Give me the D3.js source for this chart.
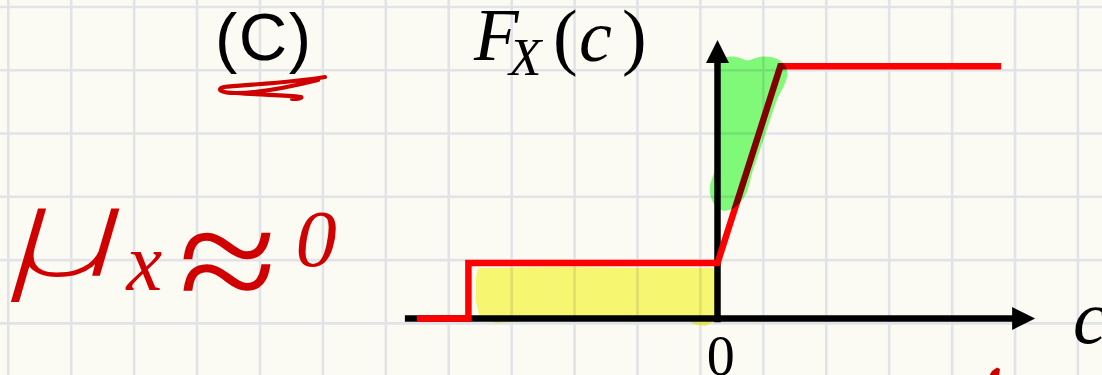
<!DOCTYPE html>
<html>
<head>
<meta charset="utf-8">
<script src="https://cdn.jsdelivr.net/npm/d3@7"></script>
<style>
  html, body { margin: 0; padding: 0; background: #fbfbf4; }
  svg { display: block; }
</style>
</head>
<body>
<svg id="chart" width="1102" height="375"></svg>
<script>
// Piecewise CDF of X: breakpoints c and values F_X(c)
const cPoints   = [-4.78, -3.96, -3.96, 0, 1, 4.51];
const cdfPoints = [0, 0, 0.22, 0.22, 1, 1];

// Axis ticks
const xTicks = [0];
const xTickLabels = ["0"];

// Extent of the arrowed axes (data units)
const xAxisExtent = [-4.97, 5.05];
const yAxisExtent = [-0.015, 1.104];

// Highlighter strokes (data units): yellow under the flat part, green beside the ramp
const yellowC = [-3.76, -2.50, -1.23, -0.10, -0.10, -0.20, -0.33, -0.44, -3.14, -3.51, -3.73, -3.78, -3.78];
const yellowF = [0.184, 0.188, 0.184, 0.184, 0.002, -0.014, -0.010, 0.006, 0.006, -0.002, 0.018, 0.073, 0.153];
const greenC  = [0.02, 0.25, 0.48, 0.71, 0.95, 1.04, 0.99, 0.90, 0.68, 0.48, 0.39, 0.25, 0.10, -0.01, -0.05, 0.02, 0.04, 0.04];
const greenF  = [1.009, 1.021, 1.005, 1.021, 1.009, 0.973, 0.930, 0.886, 0.727, 0.581, 0.502, 0.458, 0.446, 0.470, 0.521, 0.581, 0.787, 0.985];

const W = 1102, H = 375;
const bg = "#fbfbf4";
const svg = d3.select("#chart");

const x = d3.scaleLinear().domain([0, 1]).range([717.5, 780.4]);
const y = d3.scaleLinear().domain([0, 1]).range([318.5, 66.3]);

// paper background with square grid
svg.append("rect").attr("width", W).attr("height", H).attr("fill", bg);
const grid = svg.append("g").attr("stroke", "#e2e3e7").attr("stroke-width", 2.6);
d3.range(0, 18).map(k => 8.3 + 62.92 * k).forEach(gx => {
  grid.append("line").attr("x1", gx).attr("x2", gx).attr("y1", 0).attr("y2", H);
});
d3.range(0, 6).map(k => 7 + 63.27 * k).forEach(gy => {
  grid.append("line").attr("x1", 0).attr("x2", W).attr("y1", gy).attr("y2", gy);
});

// yellow highlight
const yellowPts = yellowC.map((c, i) => [x(c), y(yellowF[i])]);
svg.append("path")
  .attr("d", d3.line().curve(d3.curveLinearClosed)(yellowPts))
  .attr("fill", "#fbfa76").attr("stroke", "#fbfa76")
  .attr("stroke-width", 8).attr("stroke-linejoin", "round")
  .style("mix-blend-mode", "multiply");

// axes with arrowheads
const axes = svg.append("g");
const xTip = x(xAxisExtent[1]), yTip = y(yAxisExtent[1]);
const head = 23, half = 11.5;
axes.append("line")
  .attr("x1", x(xAxisExtent[0])).attr("x2", xTip - head + 2)
  .attr("y1", y(0)).attr("y2", y(0))
  .attr("stroke", "#000").attr("stroke-width", 6.5);
axes.append("path")
  .attr("d", `M${xTip},${y(0)} L${xTip - head},${y(0) - half} L${xTip - head},${y(0) + half} Z`)
  .attr("fill", "#000");
axes.append("line")
  .attr("x1", x(0)).attr("x2", x(0))
  .attr("y1", y(yAxisExtent[0])).attr("y2", yTip + head - 2)
  .attr("stroke", "#000").attr("stroke-width", 6.5);
axes.append("path")
  .attr("d", `M${x(0)},${yTip} L${x(0) - half},${yTip + head} L${x(0) + half},${yTip + head} Z`)
  .attr("fill", "#000");

// tick label under the origin
const xAxis = d3.axisBottom(x)
  .tickValues(xTicks)
  .tickFormat((d, i) => xTickLabels[i])
  .tickSize(0)
  .tickPadding(17);
const xAxisG = svg.append("g").attr("transform", `translate(0,${y(0)})`).call(xAxis);
xAxisG.select(".domain").remove();
xAxisG.selectAll("text")
  .attr("font-family", "'Liberation Serif', serif")
  .attr("font-size", 56)
  .attr("fill", "#000")
  .attr("dx", "0.05em");

// CDF curve
const cdfPts = cPoints.map((c, i) => [x(c), y(cdfPoints[i])]);
svg.append("path")
  .attr("d", d3.line()(cdfPts))
  .attr("fill", "none")
  .attr("stroke", "#ff0000")
  .attr("stroke-width", 6.5)
  .attr("stroke-linejoin", "miter");

// green highlight
const greenPts = greenC.map((c, i) => [x(c), y(greenF[i])]);
svg.append("path")
  .attr("d", d3.line().curve(d3.curveCatmullRomClosed.alpha(0.5))(greenPts))
  .attr("fill", "#82fc7d").attr("stroke", "#82fc7d")
  .attr("stroke-width", 9).attr("stroke-linejoin", "round")
  .style("mix-blend-mode", "multiply");

// typeset labels
const serif = "'Liberation Serif', 'Times New Roman', serif";
const title = svg.append("g").attr("fill", "#000");
title.append("text").attr("x", 474).attr("y", 60).attr("font-family", serif)
  .attr("font-style", "italic").attr("font-size", 73).text("F");
title.append("text").attr("x", 509).attr("y", 75).attr("font-family", serif)
  .attr("font-style", "italic").attr("font-size", 53).text("X");
title.append("text").attr("x", 553).attr("y", 61).attr("font-family", serif)
  .attr("font-size", 74).text("(");
title.append("text").attr("x", 579).attr("y", 61).attr("font-family", serif)
  .attr("font-style", "italic").attr("font-size", 74).text("c");
title.append("text").attr("x", 622).attr("y", 61).attr("font-family", serif)
  .attr("font-size", 74).text(")");

svg.append("text").attr("x", 1073).attr("y", 343).attr("font-family", serif)
  .attr("font-style", "italic").attr("font-size", 76).attr("fill", "#000").text("c");

svg.append("text").attr("x", 215).attr("y", 60)
  .attr("font-family", "'Liberation Sans', Arial, sans-serif")
  .attr("font-size", 67).attr("letter-spacing", 1.5).attr("fill", "#000").text("(C)");

// pen marks
const ink = "#d10000";
svg.append("path")
  .attr("d", "M325,77 C290,83 240,85 224,87 C216,89 220,93 236,93 C260,93 290,87 318,80 M236,93 C260,95 285,95 301,97 C303,98 298,99 292,99")
  .attr("fill", "none").attr("stroke", ink).attr("stroke-width", 4.2)
  .attr("stroke-linecap", "round").attr("stroke-linejoin", "round");
svg.append("path")
  .attr("d", "M989,376 L992,371 L997,367.5 L1000,369 L999,376 Z")
  .attr("fill", ink);

// handwritten note, each glyph fitted to its ink box
const ctx = document.createElement("canvas").getContext("2d");
function penText(str, box, family, weight) {
  ctx.font = `italic ${weight} 100px ${family}`;
  const m = ctx.measureText(str);
  const inkW = m.actualBoundingBoxLeft + m.actualBoundingBoxRight;
  const inkH = m.actualBoundingBoxAscent + m.actualBoundingBoxDescent;
  const sx = (box[2] - box[0]) / inkW, sy = (box[3] - box[1]) / inkH;
  const tx = box[0] + m.actualBoundingBoxLeft * sx;
  const ty = box[1] + m.actualBoundingBoxAscent * sy;
  svg.append("text")
    .attr("transform", `translate(${tx},${ty}) scale(${sx},${sy})`)
    .attr("font-family", family)
    .attr("font-style", "italic")
    .attr("font-weight", weight)
    .attr("font-size", 100)
    .attr("fill", ink)
    .text(str);
}
penText("μ", [10, 207, 120, 302], "Roboto", 200);
penText("x", [125, 252, 162, 290], "'Liberation Serif'", 400);
penText("≈", [183, 232, 271, 292], "'Liberation Serif'", 400);
penText("0", [298, 213, 336, 268], "'Liberation Serif'", 400);
</script>
</body>
</html>
